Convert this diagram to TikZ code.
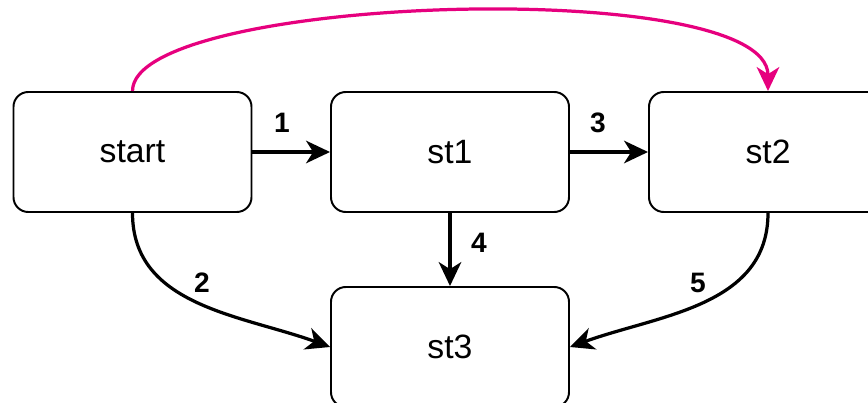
\documentclass[tikz,border=0pt]{standalone}
\usepackage{fontspec}
\setmainfont{Liberation Sans}
\usetikzlibrary{arrows.meta}
\definecolor{jumppink}{RGB}{230,0,126}

\begin{document}
\begin{tikzpicture}[
  statenode/.style={rectangle, draw, rounded corners=0.37cm, line width=1.4pt, minimum width=5.95cm, minimum height=3cm, text centered, font=\fontsize{24}{28}\selectfont},
  transarrow/.style={-{Stealth[length=17pt, width=16pt, inset=5pt]}, line width=2.3pt},
  translabel/.style={font=\bfseries\fontsize{20}{22}\selectfont}
]
\useasboundingbox (0, 0) rectangle (21.7, -10.075);

% State nodes
\node[statenode] (start) at (3.3125, -3.8) {start};
\node[statenode] (st1) at (11.25, -3.8) {st1};
\node[statenode] (st2) at (19.2, -3.8) {st2};
\node[statenode] (st3) at (11.25, -8.675) {st3};

% Arrows
\draw[transarrow] (start.east) -- (st1.west);
\draw[transarrow] (st1.east) -- (st2.west);
\draw[transarrow] (st1.south) -- (st3.north);
\draw[transarrow] (start.south) to[out=-90, in=160] (st3.west);
\draw[transarrow] (st2.south) to[out=-90, in=20] (st3.east);

\draw[transarrow, draw=jumppink] (start.north) .. controls (3.3125, 0.125) and (19.2, 0.625) .. (st2.north);

% Labels
\node[translabel] (lab1) at (7.05, -3.075) {1};
\node[translabel] (lab2) at (5.05, -7.075) {2};
\node[translabel] (lab3) at (14.95, -3.075) {3};
\node[translabel] (lab4) at (11.975, -6.075) {4};
\node[translabel] (lab5) at (17.45, -7.075) {5};

\end{tikzpicture}
\end{document}
